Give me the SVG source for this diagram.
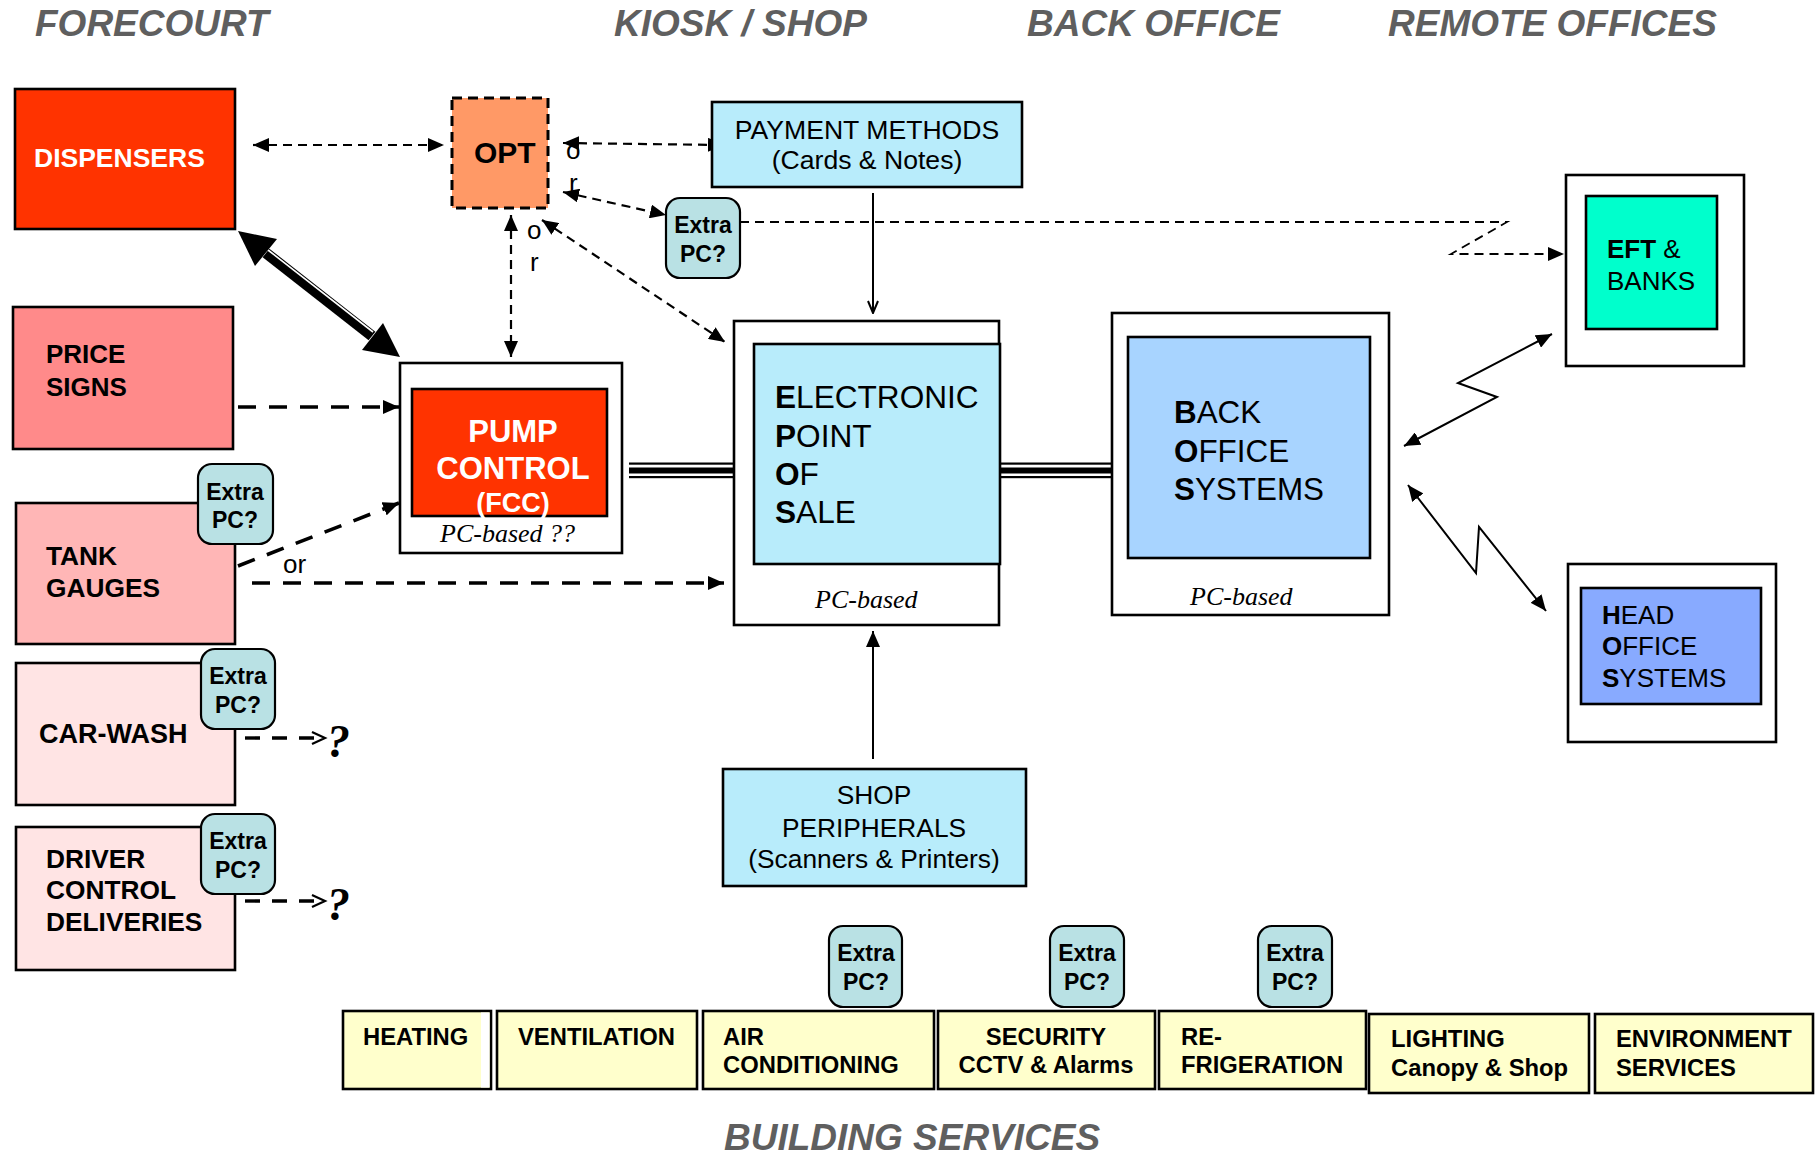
<svg xmlns="http://www.w3.org/2000/svg" width="1816" height="1156" viewBox="0 0 1816 1156">
  <style>
    .title { font-family: "Liberation Sans", Arial, sans-serif; font-weight: bold; font-style: italic; font-size: 37px; fill: #5f5f5f; }
    .box { stroke: #000; stroke-width: 2.6; }
    .frame { fill: #fff; stroke: #000; stroke-width: 2.6; }
    .lbl { font-family: "Liberation Sans", Arial, sans-serif; fill: #000; }
    .b { font-weight: bold; }
    .w { fill: #fff; }
    .it { font-family: "Liberation Serif", "Times New Roman", serif; font-style: italic; font-size: 26px; fill: #000; }
    .xpc rect { fill: #b9e1e4; stroke: #000; stroke-width: 2.2; }
    .xpc text { font-family: "Liberation Sans", Arial, sans-serif; font-weight: bold; font-size: 23px; text-anchor: middle; }
    .bs rect { fill: #ffffcc; stroke: #000; stroke-width: 2.6; }
    .bs rect.gap { fill: #fff; stroke: none; }
    .bs text { font-family: "Liberation Sans", Arial, sans-serif; font-weight: bold; font-size: 23.8px; }
    .dash { fill: none; stroke: #000; stroke-width: 2.2; stroke-dasharray: 9 6; }
    .dashT { fill: none; stroke: #000; stroke-width: 3.6; stroke-dasharray: 18 13; }
    .solid { fill: none; stroke: #000; stroke-width: 2; }
  </style>
  <defs>
    <marker id="tri" viewBox="0 0 16 14" refX="16" refY="7" markerWidth="16" markerHeight="14" markerUnits="userSpaceOnUse" orient="auto-start-reverse">
      <path d="M0,0 L16,7 L0,14 z" fill="#000"/>
    </marker>
    <marker id="vee" viewBox="0 0 14 12" refX="13" refY="6" markerWidth="14" markerHeight="12" markerUnits="userSpaceOnUse" orient="auto">
      <path d="M1,1 L13,6 L1,11" fill="none" stroke="#000" stroke-width="2"/>
    </marker>
  </defs>

  <!-- section headings -->
  <text class="title" x="35" y="36">FORECOURT</text>
  <text class="title" x="614" y="36">KIOSK / SHOP</text>
  <text class="title" x="1027" y="36">BACK OFFICE</text>
  <text class="title" x="1388" y="36">REMOTE OFFICES</text>
  <text class="title" x="724" y="1150">BUILDING SERVICES</text>

  <!-- connectors -->
  <g id="connectors">
    <!-- forecourt to OPT / pump control -->
    <line class="dash" x1="253" y1="145" x2="444" y2="145" marker-start="url(#tri)" marker-end="url(#tri)"/>
    <line class="dash" x1="563" y1="143" x2="724" y2="145" marker-start="url(#tri)" marker-end="url(#tri)"/>
    <line class="dash" x1="563" y1="192" x2="666" y2="215" marker-start="url(#tri)" marker-end="url(#tri)"/>
    <line class="dash" x1="511" y1="215" x2="511" y2="357" marker-start="url(#tri)" marker-end="url(#tri)"/>
    <line class="dash" x1="542" y1="220" x2="725" y2="342" marker-start="url(#tri)" marker-end="url(#tri)"/>
    <path d="M740,222 H1507 L1451,254 H1564" fill="none" stroke="#000" stroke-width="1.8" stroke-dasharray="9 6" marker-end="url(#tri)"/>

    <!-- dispensers <-> pump control, heavy compound line -->
    <g>
      <line x1="266" y1="253" x2="372" y2="336" stroke="#000" stroke-width="11"/>
      <line x1="268" y1="250" x2="373" y2="332" stroke="#fff" stroke-width="1.6"/>
      <polygon points="238,231 277,239 255,266" fill="#000"/>
      <polygon points="400,357 383,323 362,350" fill="#000"/>
    </g>

    <!-- price signs / tank gauges -->
    <line class="dashT" x1="238" y1="407" x2="399" y2="407" marker-end="url(#tri)"/>
    <line class="dashT" x1="238" y1="566" x2="399" y2="503" marker-end="url(#tri)"/>
    <line class="dashT" x1="252" y1="583" x2="724" y2="583" marker-end="url(#tri)"/>

    <!-- car-wash / driver control -->
    <line x1="245" y1="738" x2="323" y2="738" stroke="#000" stroke-width="3.4" stroke-dasharray="15 12" />
    <path d="M312,732 L325,738 L312,744" fill="none" stroke="#000" stroke-width="2.2"/>
    <line x1="245" y1="901" x2="323" y2="901" stroke="#000" stroke-width="3.4" stroke-dasharray="15 12" />
    <path d="M312,895 L325,901 L312,907" fill="none" stroke="#000" stroke-width="2.2"/>

    <!-- payment methods and shop peripherals -->
    <line class="solid" x1="873" y1="193" x2="873" y2="313" marker-end="url(#vee)"/>
    <line class="solid" x1="873" y1="759" x2="873" y2="631" marker-end="url(#tri)"/>

    <!-- trunk links: pump control - EPOS - back office -->
    <g fill="#000">
      <rect x="629" y="462.5" width="104" height="2.2"/>
      <rect x="629" y="467.5" width="104" height="6"/>
      <rect x="629" y="476" width="104" height="2.2"/>
      <rect x="1001" y="462.5" width="110" height="2.2"/>
      <rect x="1001" y="467.5" width="110" height="6"/>
      <rect x="1001" y="476" width="110" height="2.2"/>
    </g>

    <!-- remote links -->
    <polyline class="solid" points="1404,446 1497,397 1458,383 1552,334" marker-start="url(#tri)" marker-end="url(#tri)"/>
    <polyline class="solid" points="1408,485 1476,573 1479,527 1546,611" marker-start="url(#tri)" marker-end="url(#tri)"/>
  </g>

  <!-- "or" annotations -->
  <g class="lbl" font-size="26">
    <text x="566" y="159">o</text>
    <text x="569" y="192">r</text>
    <text x="527" y="239">o</text>
    <text x="530" y="271">r</text>
    <text x="283" y="573">or</text>
  </g>

  <!-- forecourt -->
  <g id="dispensers">
    <rect class="box" x="15" y="89" width="220" height="140" fill="#ff3300"/>
    <text class="lbl b w" x="34" y="167" font-size="26.5">DISPENSERS</text>
  </g>
  <g id="opt">
    <rect x="452" y="98" width="96" height="110" fill="#ff9966" stroke="#000" stroke-width="3" stroke-dasharray="10 6"/>
    <text class="lbl b" x="474" y="163" font-size="30">OPT</text>
  </g>
  <g id="price-signs">
    <rect class="box" x="13" y="307" width="220" height="142" fill="#ff8a8a"/>
    <text class="lbl b" x="46" y="363" font-size="26">PRICE</text>
    <text class="lbl b" x="46" y="396" font-size="26">SIGNS</text>
  </g>
  <g id="tank-gauges">
    <rect class="box" x="16" y="503" width="219" height="141" fill="#ffb6b6"/>
    <text class="lbl b" x="46" y="565" font-size="26.3">TANK</text>
    <text class="lbl b" x="46" y="597" font-size="26.3">GAUGES</text>
  </g>
  <g id="car-wash">
    <rect class="box" x="16" y="663" width="219" height="142" fill="#ffe4e4"/>
    <text class="lbl b" x="39" y="743" font-size="27">CAR-WASH</text>
  </g>
  <g id="driver-control">
    <rect class="box" x="16" y="827" width="219" height="143" fill="#ffe4e4"/>
    <text class="lbl b" x="46" y="868" font-size="26.3">DRIVER</text>
    <text class="lbl b" x="46" y="899" font-size="26.3">CONTROL</text>
    <text class="lbl b" x="46" y="931" font-size="26.3">DELIVERIES</text>
  </g>
  <g id="unknown-targets" font-family="Liberation Serif, Times New Roman, serif" font-weight="bold" font-style="italic" font-size="46">
    <text x="327" y="757">?</text>
    <text x="327" y="920">?</text>
  </g>

  <!-- pump control -->
  <g id="pump-control">
    <rect class="frame" x="400" y="363" width="222" height="190"/>
    <rect class="box" x="412" y="389" width="195" height="127" fill="#ff3300"/>
    <g class="lbl b w" font-size="31" text-anchor="middle">
      <text x="513" y="442">PUMP</text>
      <text x="513" y="479">CONTROL</text>
      <text x="513" y="512" font-size="27">(FCC)</text>
    </g>
    <text class="it" x="440" y="542">PC-based ??</text>
  </g>

  <!-- kiosk / shop -->
  <g id="payment-methods">
    <rect class="box" x="712" y="102" width="310" height="85" fill="#b8ecfb"/>
    <text class="lbl" x="867" y="139" font-size="26.6" text-anchor="middle">PAYMENT METHODS</text>
    <text class="lbl" x="867" y="169" font-size="26.6" text-anchor="middle">(Cards &amp; Notes)</text>
  </g>
  <g id="epos">
    <rect class="frame" x="734" y="321" width="265" height="304"/>
    <rect class="box" x="754" y="344" width="246" height="220" fill="#b8ecfb"/>
    <g class="lbl" font-size="31.6">
      <text x="775" y="408"><tspan class="b">E</tspan>LECTRONIC</text>
      <text x="775" y="447"><tspan class="b">P</tspan>OINT</text>
      <text x="775" y="485"><tspan class="b">O</tspan>F</text>
      <text x="775" y="523"><tspan class="b">S</tspan>ALE</text>
    </g>
    <text class="it" x="815" y="608">PC-based</text>
  </g>
  <g id="shop-peripherals">
    <rect class="box" x="723" y="769" width="303" height="117" fill="#b8ecfb"/>
    <g class="lbl" font-size="26.3" text-anchor="middle">
      <text x="874" y="804">SHOP</text>
      <text x="874" y="837">PERIPHERALS</text>
      <text x="874" y="868">(Scanners &amp; Printers)</text>
    </g>
  </g>

  <!-- back office -->
  <g id="back-office">
    <rect class="frame" x="1112" y="313" width="277" height="302"/>
    <rect class="box" x="1128" y="337" width="242" height="221" fill="#a8d4ff"/>
    <g class="lbl" font-size="31.4">
      <text x="1174" y="423"><tspan class="b">B</tspan>ACK</text>
      <text x="1174" y="462"><tspan class="b">O</tspan>FFICE</text>
      <text x="1174" y="500"><tspan class="b">S</tspan>YSTEMS</text>
    </g>
    <text class="it" x="1190" y="605">PC-based</text>
  </g>

  <!-- remote offices -->
  <g id="eft-banks">
    <rect class="frame" x="1566" y="175" width="178" height="191"/>
    <rect class="box" x="1586" y="196" width="131" height="133" fill="#00ffcc"/>
    <g class="lbl" font-size="26">
      <text x="1607" y="258"><tspan class="b">EFT</tspan> &amp;</text>
      <text x="1607" y="290">BANKS</text>
    </g>
  </g>
  <g id="head-office">
    <rect class="frame" x="1568" y="564" width="208" height="178"/>
    <rect class="box" x="1581" y="588" width="180" height="116" fill="#88aaff"/>
    <g class="lbl" font-size="26">
      <text x="1602" y="624"><tspan class="b">H</tspan>EAD</text>
      <text x="1602" y="655"><tspan class="b">O</tspan>FFICE</text>
      <text x="1602" y="687"><tspan class="b">S</tspan>YSTEMS</text>
    </g>
  </g>

  <!-- optional extra PCs -->
  <g id="xpc-opt" class="xpc">
    <rect x="666" y="198" width="74" height="80" rx="14"/>
    <text x="703" y="233">Extra</text><text x="703" y="262">PC?</text>
  </g>
  <g id="xpc-tank" class="xpc">
    <rect x="198" y="464" width="75" height="80" rx="14"/>
    <text x="235" y="500">Extra</text><text x="235" y="528">PC?</text>
  </g>
  <g id="xpc-carwash" class="xpc">
    <rect x="201" y="649" width="74" height="80" rx="14"/>
    <text x="238" y="684">Extra</text><text x="238" y="713">PC?</text>
  </g>
  <g id="xpc-driver" class="xpc">
    <rect x="201" y="814" width="74" height="80" rx="14"/>
    <text x="238" y="849">Extra</text><text x="238" y="878">PC?</text>
  </g>

  <!-- building services -->
  <g id="heating" class="bs">
    <rect x="343" y="1011" width="148" height="78"/>
    <rect class="gap" x="481" y="1012.5" width="8.5" height="75"/>
    <text x="363" y="1045">HEATING</text>
  </g>
  <g id="ventilation" class="bs">
    <rect x="497" y="1011" width="200" height="78"/>
    <text x="518" y="1045">VENTILATION</text>
  </g>
  <g id="air-conditioning" class="bs">
    <rect x="703" y="1011" width="231" height="78"/>
    <text x="723" y="1045">AIR</text>
    <text x="723" y="1073">CONDITIONING</text>
  </g>
  <g id="security" class="bs">
    <rect x="938" y="1011" width="217" height="78"/>
    <text x="1046" y="1045" text-anchor="middle">SECURITY</text>
    <text x="1046" y="1073" text-anchor="middle">CCTV &amp; Alarms</text>
  </g>
  <g id="refrigeration" class="bs">
    <rect x="1159" y="1011" width="207" height="78"/>
    <text x="1181" y="1045">RE-</text>
    <text x="1181" y="1073">FRIGERATION</text>
  </g>
  <g id="lighting" class="bs">
    <rect x="1369" y="1014" width="220" height="79"/>
    <text x="1391" y="1047">LIGHTING</text>
    <text x="1391" y="1076">Canopy &amp; Shop</text>
  </g>
  <g id="environment" class="bs">
    <rect x="1595" y="1014" width="218" height="79"/>
    <text x="1616" y="1047">ENVIRONMENT</text>
    <text x="1616" y="1076">SERVICES</text>
  </g>
  <g id="xpc-aircon" class="xpc">
    <rect x="829" y="926" width="73" height="81" rx="14"/>
    <text x="866" y="961">Extra</text><text x="866" y="990">PC?</text>
  </g>
  <g id="xpc-security" class="xpc">
    <rect x="1050" y="926" width="74" height="81" rx="14"/>
    <text x="1087" y="961">Extra</text><text x="1087" y="990">PC?</text>
  </g>
  <g id="xpc-refrigeration" class="xpc">
    <rect x="1258" y="926" width="74" height="81" rx="14"/>
    <text x="1295" y="961">Extra</text><text x="1295" y="990">PC?</text>
  </g>
</svg>
